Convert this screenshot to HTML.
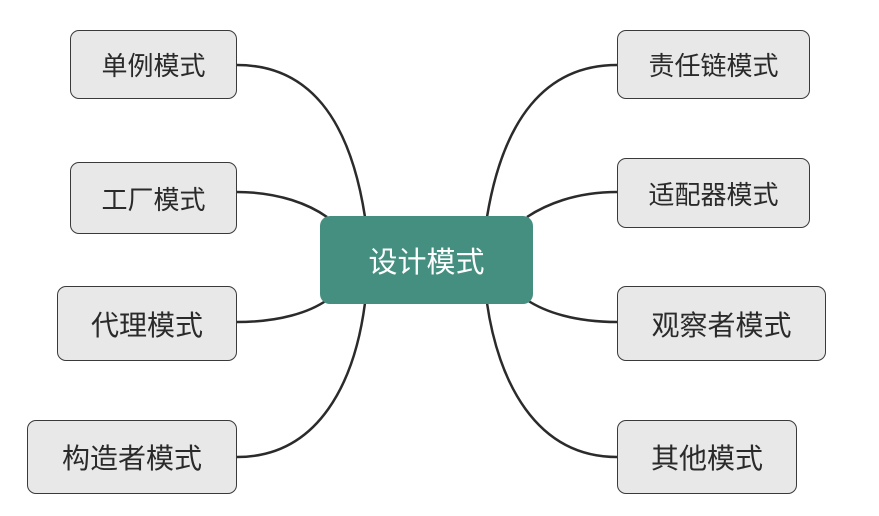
<!DOCTYPE html>
<html><head><meta charset="utf-8"><style>
body{margin:0;width:879px;height:516px;background:#fff;overflow:hidden;position:relative;font-family:"Liberation Sans","Noto Sans CJK SC",sans-serif}
.b{position:absolute;box-sizing:border-box;background:#e8e8e8;border:1.5px solid #3a3a3a;border-radius:9px;display:flex;align-items:center;justify-content:center;color:#2a2a2a;font-size:26px}
.c{position:absolute;left:320px;top:216px;width:213px;height:88px;background:#458f80;border-radius:10px;display:flex;align-items:center;justify-content:center;color:#fff;font-size:29px}
svg{position:absolute;left:0;top:0}
</style></head><body>
<svg width="879" height="516"><g fill="none" stroke="#2b2b2b" stroke-width="2.5">
<path d="M237,65 C310,65 350,120 365,217"/>
<path d="M237,192 C280,192 310,205 327,217"/>
<path d="M237,322 C280,322 310,312 327,300"/>
<path d="M237,457 C320,457 355,380 365,303"/>
<path d="M617,65 C545,65 503,120 487,217"/>
<path d="M617,192 C575,192 545,205 527,217"/>
<path d="M617,322 C575,322 545,312 527,300"/>
<path d="M617,457 C535,457 498,380 487,303"/>
</g></svg>
<div class="b" style="left:70px;top:30px;width:167px;height:69px">单例模式</div>
<div class="b" style="left:70px;top:162px;width:167px;height:72px">工厂模式</div>
<div class="b" style="left:57px;top:286px;width:180px;height:75px;font-size:28px">代理模式</div>
<div class="b" style="left:27px;top:420px;width:210px;height:74px;font-size:28px">构造者模式</div>
<div class="b" style="left:617px;top:30px;width:193px;height:69px">责任链模式</div>
<div class="b" style="left:617px;top:158px;width:193px;height:70px">适配器模式</div>
<div class="b" style="left:617px;top:286px;width:209px;height:75px;font-size:28px">观察者模式</div>
<div class="b" style="left:617px;top:420px;width:180px;height:74px;font-size:28px">其他模式</div>
<div class="c">设计模式</div>
</body></html>
